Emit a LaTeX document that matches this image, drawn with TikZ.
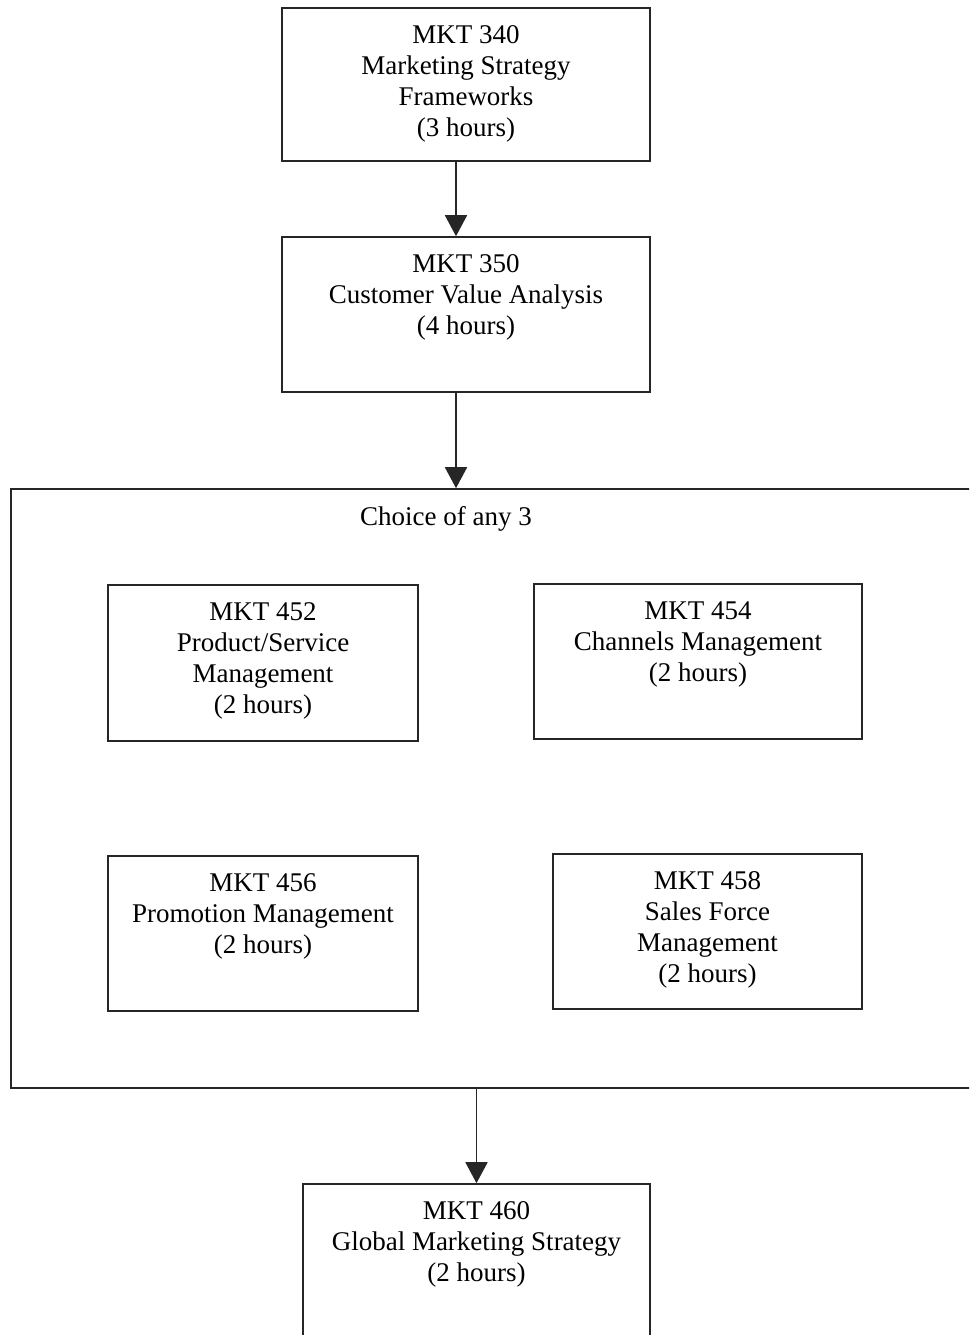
\documentclass[tikz,border=0pt]{standalone}
\usepackage{fontspec}
\setmainfont{Liberation Serif}
\usetikzlibrary{positioning, arrows.meta}
\tikzset{
  course/.style={rectangle, draw=black!85, line width=1.6pt, inner sep=0pt},
  coursetext/.style={anchor=north, align=center, inner sep=0pt, yshift=-18.5pt,
    font=\fontsize{27}{31}\selectfont},
  flow/.style={-{Triangle[length=21pt, width=22pt]}, line width=1.8pt, black!85},
}
\begin{document}
\begin{tikzpicture}[x=1pt, y=-1pt]
    \clip (0,0) rectangle (969,1335);
    % core courses
    \node[course, minimum width=368pt, minimum height=153pt,
      label={[coursetext]north:{MKT 340\\Marketing Strategy\\Frameworks\\(3 hours)}}] (m340) at (466,84.5) {};
    \node[course, minimum width=368pt, minimum height=155pt,
      label={[coursetext]north:{MKT 350\\Customer Value Analysis\\(4 hours)}}] (m350) at (466,314.5) {};
    % electives
    \node[course, minimum width=979pt, minimum height=599pt] (choicebox) at (500.5,788.5) {};
    \node[font=\fontsize{27}{31}\selectfont, anchor=base] (choice) at (446,525) {Choice of any 3};
    \node[course, minimum width=310pt, minimum height=156pt,
      label={[coursetext]north:{MKT 452\\Product/Service\\Management\\(2 hours)}}] (m452) at (263,663) {};
    \node[course, minimum width=328pt, minimum height=155pt,
      label={[coursetext]north:{MKT 454\\Channels Management\\(2 hours)}}] (m454) at (698,661.5) {};
    \node[course, minimum width=310pt, minimum height=155pt,
      label={[coursetext]north:{MKT 456\\Promotion Management\\(2 hours)}}] (m456) at (263,933.5) {};
    \node[course, minimum width=309pt, minimum height=155pt,
      label={[coursetext]north:{MKT 458\\Sales Force\\Management\\(2 hours)}}] (m458) at (707.5,931.5) {};
    % capstone
    \node[course, minimum width=347pt, minimum height=160pt,
      label={[coursetext]north:{MKT 460\\Global Marketing Strategy\\(2 hours)}}] (m460) at (476.5,1264) {};
    \draw[flow] ([xshift=-10pt]m340.south) -- ([xshift=-10pt]m350.north);
    \draw[flow] ([xshift=-10pt]m350.south) -- ([xshift=-10pt]m350.south |- choicebox.north);
    \draw[flow] (m460.north |- choicebox.south) -- (m460.north);
\end{tikzpicture}
\end{document}
